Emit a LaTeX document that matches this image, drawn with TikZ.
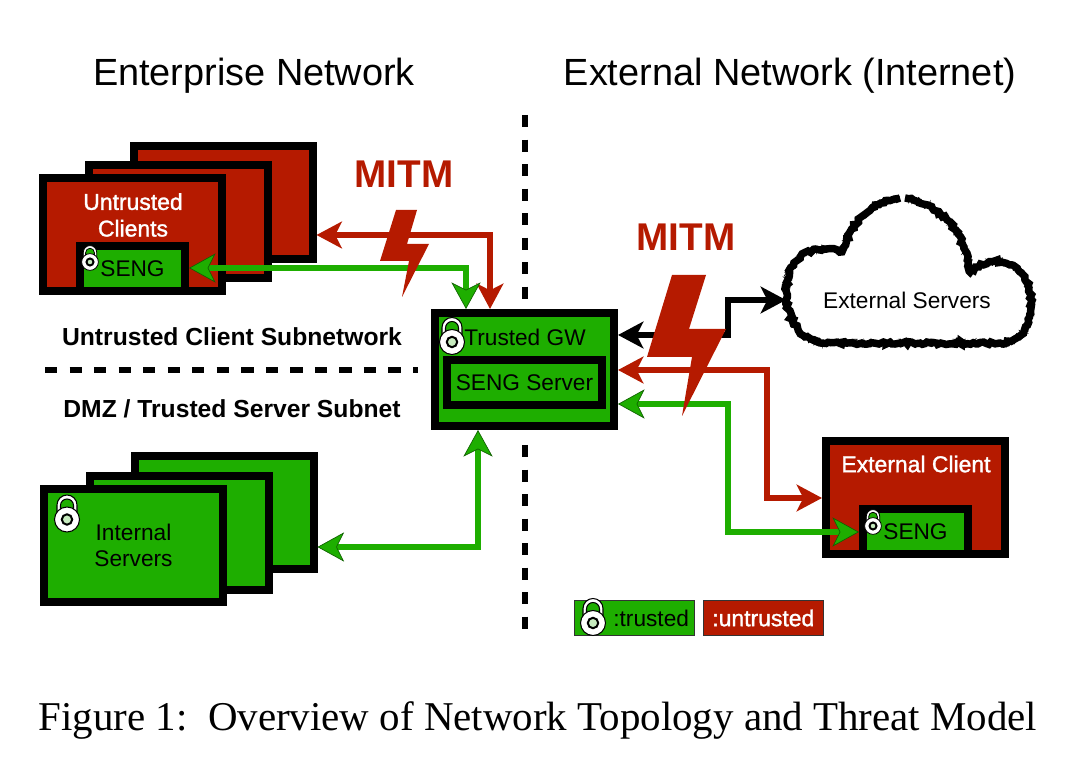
\documentclass[tikz,border=0pt]{standalone}
\usepackage{fontspec}
\setmainfont{Liberation Serif}
\setsansfont{Liberation Sans}
\newfontfamily\halofont[FakeBold=1.4]{Liberation Sans}
\usepackage{xcolor}
\usetikzlibrary{arrows.meta, positioning, decorations.pathmorphing}

\definecolor{trustgreen}{HTML}{1EAE00}
\definecolor{untrustred}{HTML}{B51A00}
\newcommand{\labelsize}{\fontsize{17}{20}\selectfont\sffamily}
\newcommand{\halosize}{\fontsize{17.2}{20}\selectfont\halofont}
\newcommand{\cloudline}{(905,198) .. controls (945,205) and (965,235) .. (970,272)
        .. controls (985,258) and (1005,258) .. (1018,270)
        .. controls (1036,285) and (1040,340) .. (1000,343)
        -- (820,343)
        .. controls (785,335) and (778,285) .. (795,262)
        .. controls (805,250) and (825,245) .. (842,252)
        .. controls (852,220) and (870,203) .. (900,198)}

\tikzset{
    lock/.pic={
        \draw[fill=white] (-10,-3) -- (-10,-14.5) arc[start angle=180, end angle=360, radius=10] -- (10,-3) -- cycle;
        \draw[fill=trustgreen] (-6.5,-8) -- (-6.5,-14) arc[start angle=180, end angle=360, radius=6.5] -- (6.5,-8) -- cycle;
        \draw[fill=white] (0,0) circle[radius=12.5];
        \draw[fill=trustgreen!25!white, line width=1.5pt] (0,0) circle[radius=5.2];
    }
}

\begin{document}
\begin{tikzpicture}[
    x=0.75pt, y=-0.75pt,
    host/.style={rectangle, draw, line width=6pt, minimum width=134.25pt, minimum height=84.75pt, align=center, font=\labelsize},
    hostred/.style={host, fill=untrustred, text=white},
    hostgreen/.style={host, fill=trustgreen},
    seng/.style={rectangle, draw, line width=6pt, fill=trustgreen, minimum width=78.75pt, minimum height=33.75pt, font=\labelsize},
    legend/.style={rectangle, draw=black!80, line width=.6pt, minimum width=90pt, minimum height=26.5pt, font=\labelsize},
    link/.style={<->, >={Stealth[length=19pt, width=20pt, inset=5pt]}, line width=4.5pt},
    linkgreen/.style={<->, >={Stealth[length=20pt, width=22pt, inset=5.5pt, fill=trustgreen, line width=.5pt]}, draw=black!45!trustgreen, line width=.3pt, double=trustgreen, double distance=4.4pt},
    divider/.style={line width=4.8pt, dash pattern=on 9.2pt off 9.2pt},
    bolt/.style={fill=untrustred},
    heading/.style={font=\fontsize{28.4}{34}\selectfont\sffamily},
    subnet/.style={font=\fontsize{18.5}{22}\selectfont\sffamily\bfseries},
    mitm/.style={font=\fontsize{29}{34}\selectfont\sffamily\bfseries, text=untrustred}
]
    \useasboundingbox (0,0) rectangle (1086,773);

    % Headings
    \node[heading] (enterprise) at (254,76) {Enterprise Network};
    \node[heading] (external) at (790,76) {External Network (Internet)};

    % Dividers
    \coordinate (divtop) at (525,115);
    \coordinate (divmida) at (525,300);
    \coordinate (divmidb) at (525,445);
    \coordinate (divbottom) at (525,630);
    \coordinate (divleft) at (45,370);
    \coordinate (divright) at (418,370);
    \draw[divider] (divtop) -- (divmida);
    \draw[divider] (divmidb) -- (divbottom);
    \draw[divider] (divleft) -- (divright);

    % Subnets
    \node[subnet] (untrustednet) at (232,337) {Untrusted Client Subnetwork};
    \node[subnet] (dmz) at (232,409) {DMZ / Trusted Server Subnet};

    % Clients
    \node[hostred] (clientback) at (223,202.5) {};
    \node[hostred] (clientmid) at (178.5,222) {};
    \node[hostred] (client) at (132.5,234.5) {};
    \node[white, font=\halosize, align=center] (clientlabel) at (133,215) {Untrusted\\Clients};
    \node[seng] (clientseng) at (132.5,268.5) {SENG};

    % Servers
    \node[hostgreen] (serverback) at (224,513) {};
    \node[hostgreen] (servermid) at (179.5,533) {};
    \node[hostgreen] (server) at (133.5,545.5) {Internal\\Servers};

    % Gateway
    \node[hostgreen] (gw) at (524.5,369.5) {};
    \node[font=\labelsize] (gwlabel) at (525,337) {Trusted GW};
    \node[seng, minimum width=116.25pt] (gwseng) at (524.5,383) {SENG Server};

    % External client
    \node[hostred] (extclient) at (915.5,498) {};
    \node[white, font=\halosize] (extlabel) at (916,464) {External Client};
    \node[seng] (extseng) at (915.5,532) {SENG};

    % Cloud
    \draw[line width=5.6pt, decorate, decoration={random steps, segment length=2pt, amplitude=1.1pt}] \cloudline;
    \draw[line width=.5pt, decorate, decoration={random steps, segment length=1pt, amplitude=3pt}] \cloudline;
    \node[font=\labelsize] (cloud) at (907,300) {External Servers};

    % Arrows
    \coordinate (redbend) at (490,235);
    \draw[link, untrustred] (gw.north -| redbend) -- (redbend) -- (clientback.east |- redbend);
    \coordinate (greenbend) at (466,268);
    \draw[linkgreen] (gw.north -| greenbend) -- (greenbend) -- (clientseng.east |- greenbend);
    \coordinate (serverbend) at (478,547);
    \draw[linkgreen] (gw.south -| serverbend) -- (serverbend) -- (serverback.east |- serverbend);
    \coordinate (blacka) at (728,335);
    \coordinate (blackb) at (728,300);
    \coordinate (cloudleft) at (786,300);
    \draw[link] (gw.east |- blacka) -- (blacka) -- (blackb) -- (cloudleft);
    \coordinate (reda) at (767,370);
    \coordinate (redb) at (767,498);
    \draw[link, untrustred] (gw.east |- reda) -- (reda) -- (redb) -- (extclient.west |- redb);
    \coordinate (greena) at (728,404);
    \coordinate (greenb) at (728,532);
    \draw[linkgreen] (gw.east |- greena) -- (greena) -- (greenb) -- (extseng.west |- greenb);

    % Bolts
    \fill[bolt] (396,210) -- (417,210) -- (407,244) -- (429,244) -- (402,297) -- (409,261) -- (380,261) -- cycle;
    \fill[bolt] (672,275) -- (706,275) -- (689,329) -- (726,329) -- (682,416) -- (692,357) -- (647,357) -- cycle;
    \node[mitm] (mitmleft) at (404,174) {MITM};
    \node[mitm] (mitmright) at (686,237) {MITM};

    % Legend
    \node[legend, fill=trustgreen] (legendgreen) at (634.5,618) {\hspace{25pt}:trusted};
    \node[legend, fill=untrustred, text=white, font=\halosize, right=6pt of legendgreen] (legendred) {:untrusted};

    % Locks
    \pic[line width=.8pt] at (452,342) {lock};
    \pic[line width=.8pt] at (67,519.5) {lock};
    \pic[line width=.8pt] at (593,623) {lock};
    \pic[scale=.67, line width=.6pt] at (90,262) {lock};
    \pic[scale=.67, line width=.6pt] at (873,526) {lock};

    % Caption
    \node[font=\fontsize{30.7}{36}\selectfont] (caption) at (538,721) {Figure 1:\ \ Overview of Network Topology and Threat Model};
\end{tikzpicture}
\end{document}
